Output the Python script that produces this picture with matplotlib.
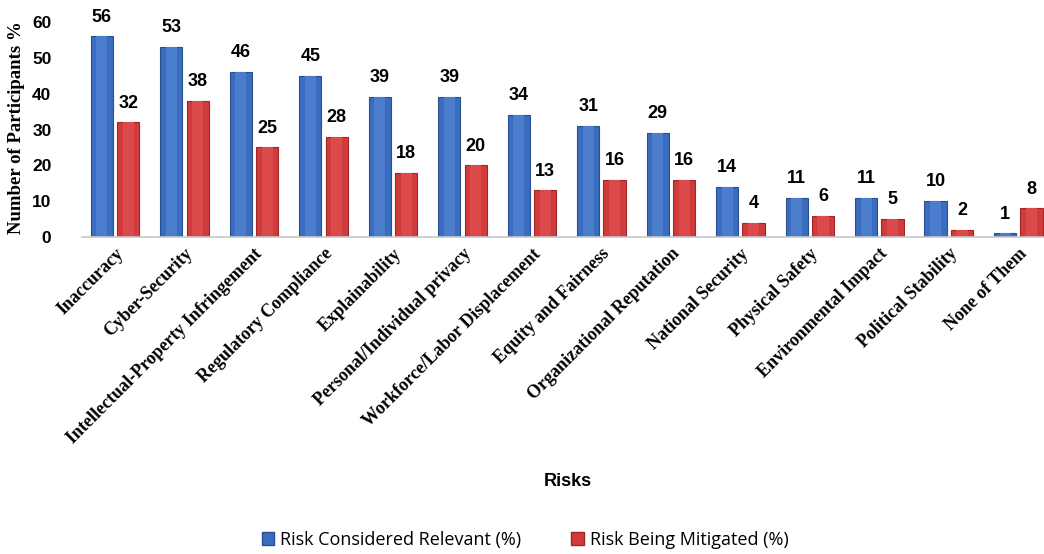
import numpy as np
import matplotlib
matplotlib.use('Agg')
from matplotlib import pyplot as plt
from matplotlib.patches import Patch

# data
risks = ['Inaccuracy', 'Cyber-Security', 'Intellectual-Property Infringement',
         'Regulatory Compliance', 'Explainability', 'Personal/Individual privacy',
         'Workforce/Labor Displacement', 'Equity and Fairness',
         'Organizational Reputation', 'National Security', 'Physical Safety',
         'Environmental Impact', 'Political Stability', 'None of Them']
relevant = [56, 53, 46, 45, 39, 39, 34, 31, 29, 14, 11, 11, 10, 1]
mitigated = [32, 38, 25, 28, 18, 20, 13, 16, 16, 4, 6, 5, 2, 8]

blue = '#3a6cc0'
red = '#d23b3b'

fig = plt.figure(figsize=(10.44, 5.54), dpi=100)
ax = fig.add_axes([82 / 1044, 1 - 237 / 554, 962 / 1044, (237 - 22) / 554])

x = np.arange(len(risks))
w = 0.32
off = 0.19
ax.bar(x - off, relevant, w, color=blue, edgecolor='#2a4f8f', linewidth=0.8)
ax.bar(x + off, mitigated, w, color=red, edgecolor='#9e2626', linewidth=0.8)
# lighter strip for a bit of the shaded look
ax.bar(x - off, relevant, w * 0.5, color='#4a7dcc', linewidth=0)
ax.bar(x + off, mitigated, w * 0.5, color='#da4a4a', linewidth=0)

for xi, v in zip(x, relevant):
    ax.text(xi - off, v + 3, str(v), ha='center', va='bottom',
            fontsize=13, fontweight='bold', family='Liberation Sans')
for xi, v in zip(x, mitigated):
    ax.text(xi + off, v + 3, str(v), ha='center', va='bottom',
            fontsize=13, fontweight='bold', family='Liberation Sans')

ax.set_xlim(-0.475, 13.37)
ax.set_ylim(0, 60)
ax.set_yticks(range(0, 61, 10))
ax.set_xticks(x)
ax.set_xticklabels(risks, rotation=45, ha='right', rotation_mode='anchor',
                   fontsize=13, fontweight='bold', family='Liberation Serif')
for lab in ax.get_yticklabels():
    lab.set_fontweight('bold')
    lab.set_fontsize(12.5)
    lab.set_family('Liberation Sans')
ax.tick_params(axis='both', length=0)
ax.tick_params(axis='x', pad=6)
ax.tick_params(axis='y', pad=22)
for s in ['top', 'right', 'left']:
    ax.spines[s].set_visible(False)
ax.spines['bottom'].set_color('#c8c8c8')
ax.spines['bottom'].set_linewidth(1.2)

fig.text(17 / 1044, 1 - 128 / 554, 'Number of Participants %', rotation=90,
         ha='center', va='center', fontsize=13.5, fontweight='bold',
         family='Liberation Serif')
fig.text(568 / 1044, 1 - 481 / 554, 'Risks', ha='center', va='center',
         fontsize=13, fontweight='bold', family='Liberation Sans')

handles = [Patch(facecolor=blue, edgecolor='#2a4f8f'),
           Patch(facecolor=red, edgecolor='#9e2626')]
fig.legend(handles, ['Risk Considered Relevant (%)', 'Risk Being Mitigated (%)'],
           loc='center', bbox_to_anchor=(525 / 1044, 1 - 540 / 554), ncol=2,
           frameon=False, handlelength=0.7, handleheight=0.7,
           handletextpad=0.3, columnspacing=2.8,
           prop={'family': 'Open Sans', 'size': 13})

fig.savefig('out.png', dpi=100)
